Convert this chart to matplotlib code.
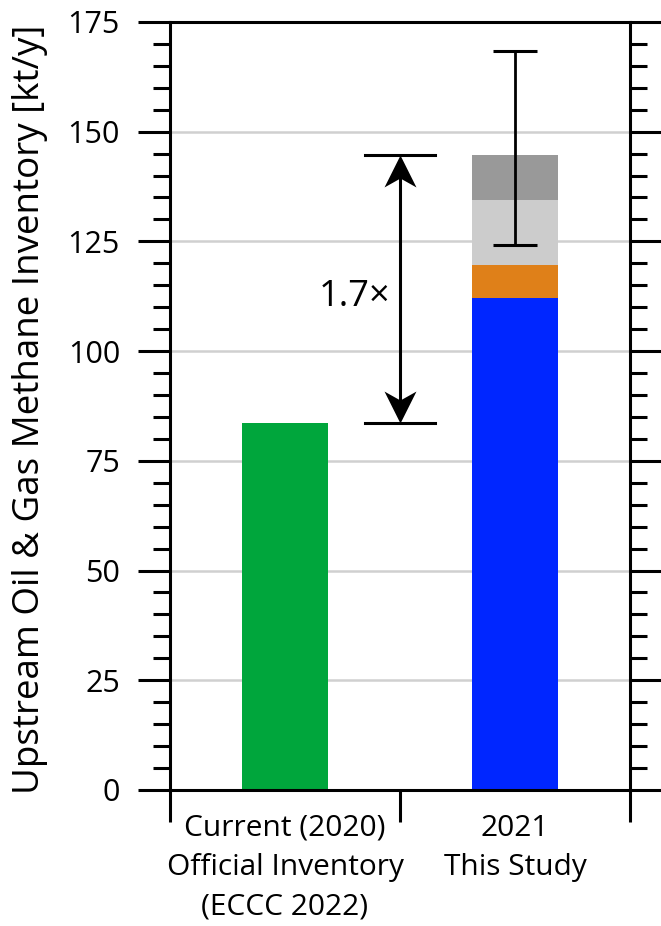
import matplotlib.pyplot as plt
from matplotlib.ticker import MultipleLocator, FixedLocator
from matplotlib.path import Path

plt.rcParams['font.family'] = ['Open Sans', 'DejaVu Sans']

# inventory values, kt/y
categories = ['Current (2020)\nOfficial Inventory\n(ECCC 2022)', '2021\nThis Study']
official = 83.6
study_parts = [112.1, 7.5, 14.8, 10.3]   # stacked components of this study
study_colors = ['#0026FF', '#DF8019', '#CCCCCC', '#999999']
err_low, err_high = 124.2, 168.4
ratio_text = '1.7\u00d7'

fig = plt.figure(figsize=(6.61, 9.26), dpi=100)
ax = fig.add_axes([0.2572, 0.1469, 0.6959, 0.8294])

bar_w = 0.37
ax.bar(0, official, width=bar_w, color='#00A63C', zorder=2)
bottom = 0
for val, col in zip(study_parts, study_colors):
    ax.bar(1, val, width=bar_w, bottom=bottom, color=col, zorder=2)
    bottom += val
total = bottom

# uncertainty range on this study's total
mid = (err_low + err_high) / 2
ax.errorbar(1, mid, yerr=(err_high - err_low) / 2, fmt='none', ecolor='black',
            elinewidth=2, capsize=16, capthick=2.2, zorder=3)

# ratio bracket on the category boundary
xb = 0.5
ax.plot([xb - 0.152, xb + 0.152], [total, total], color='black', lw=2.2, zorder=3)
ax.plot([xb - 0.152, xb + 0.152], [official, official], color='black', lw=2.2, zorder=3)
ax.plot([xb, xb], [official + 2, total - 2], color='black', lw=2.2, zorder=3)

# stealth-shaped arrow heads, tip at the marker origin
head_up = Path([(0, 0), (0.5, -1), (0, -0.72), (-0.5, -1), (0, 0)],
               [Path.MOVETO, Path.LINETO, Path.LINETO, Path.LINETO, Path.CLOSEPOLY])
head_dn = Path([(0, 0), (0.5, 1), (0, 0.72), (-0.5, 1), (0, 0)],
               [Path.MOVETO, Path.LINETO, Path.LINETO, Path.LINETO, Path.CLOSEPOLY])
ax.plot(xb, total, marker=head_up, markersize=46, color='black', mew=0, zorder=4)
ax.plot(xb, official, marker=head_dn, markersize=46, color='black', mew=0, zorder=4)

ax.text(xb - 0.04, 112.3, ratio_text, ha='right', va='center', fontsize=26)

ax.set_xlim(-0.5, 1.5)
ax.set_ylim(0, 175)

ax.yaxis.set_major_locator(MultipleLocator(25))
ax.yaxis.set_minor_locator(MultipleLocator(5))
ax.tick_params(axis='y', which='major', direction='out', length=23, width=2.2,
               labelsize=22, right=True, pad=13)
ax.tick_params(axis='y', which='minor', direction='out', length=12, width=2.2,
               right=True)

ax.xaxis.set_major_locator(FixedLocator([-0.5, 0.5, 1.5]))
ax.xaxis.set_minor_locator(FixedLocator([0, 1]))
ax.set_xticklabels(['', '', ''])
ax.set_xticklabels(categories, minor=True)
ax.tick_params(axis='x', which='major', direction='out', length=23, width=2.2)
ax.tick_params(axis='x', which='minor', length=0, labelsize=21.5, pad=17)
for lab in ax.get_xticklabels(minor=True):
    lab.set_horizontalalignment('center')
    lab.set_multialignment('center')
    lab.set_linespacing(1.48)

for s in ax.spines.values():
    s.set_linewidth(2.2)

for y in range(25, 175, 25):
    ax.axhline(y, color='#D0D0D0', lw=1.8, zorder=0)

ax.set_ylabel('Upstream Oil & Gas Methane Inventory [kt/y]', fontsize=26.5)
ax.yaxis.set_label_coords(-0.265, 0.495)

fig.savefig('out.png', dpi=100)
